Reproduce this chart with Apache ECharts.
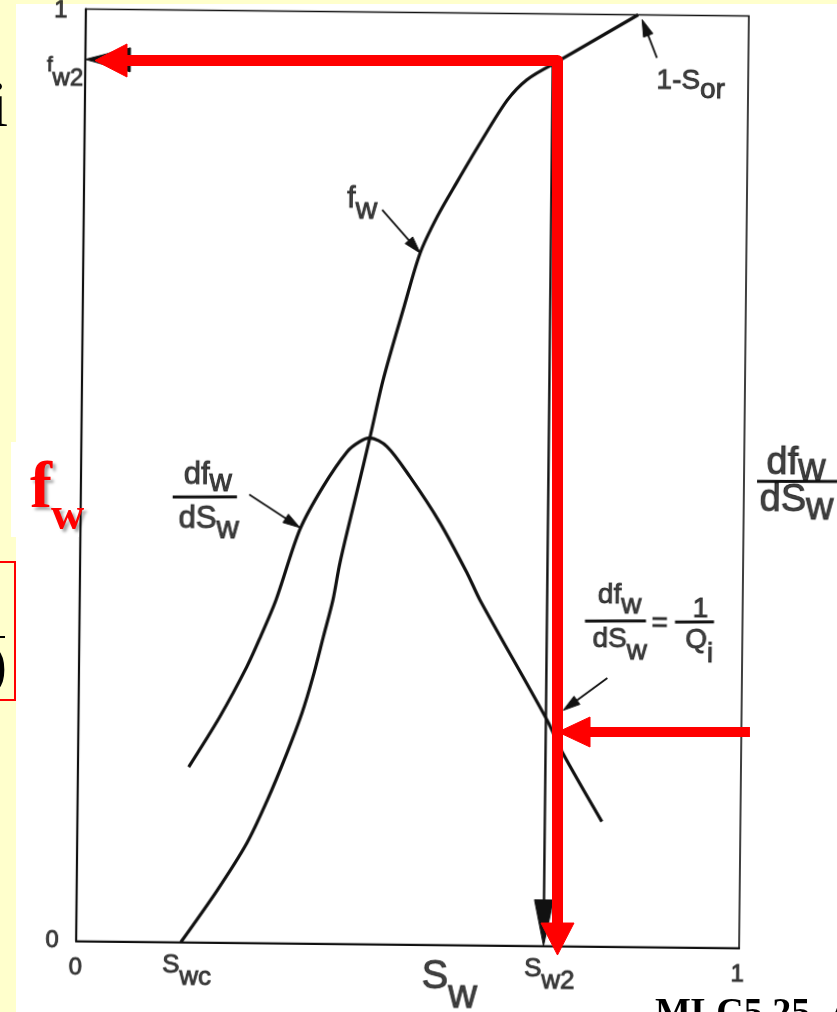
<!DOCTYPE html>
<html>
<head>
<meta charset="utf-8">
<title>Fractional flow curve f_w and df_w/dS_w</title>
<script src="https://cdn.jsdelivr.net/npm/echarts@6.0.0/dist/echarts.min.js"></script>
<style>
  html, body { margin:0; padding:0; width:837px; height:1012px; overflow:hidden; background:#ffffcc; }
  #sheet { position:absolute; left:16px; top:4px; width:821px; height:1008px; background:#ffffff; }
  #plot, #marks { position:absolute; left:0; top:0; width:837px; height:1012px; }
  /* the printed figure sits slightly tilted on the page */
  #plot { transform-origin:412.5px 478.5px; transform:rotate(0.6deg); }
</style>
</head>
<body>
<div id="sheet"></div>
<div id="plot"></div>
<div id="marks"></div>
<script>
const SANS = "'Liberation Sans', Arial, Helvetica, sans-serif";
const SERIF = "'Liberation Serif', 'Times New Roman', serif";
const INK = '#111111';
const RED = '#ff0000';

// ---- saturation end points and outlet water cut ----
const swc = 0.158;          // S_wc
const sw2 = 0.705;          // S_w2
const fw2 = 0.946;          // f_w2
const oneMinusSor = 0.833;  // 1 - S_or

// ---- fractional flow curve f_w(S_w) ----
const fwSw     = [0.158, 0.212, 0.256, 0.286, 0.315, 0.337, 0.353, 0.368, 0.382, 0.392, 0.417,
                  0.435, 0.454, 0.4845, 0.508, 0.533, 0.562, 0.597, 0.637, 0.666, 0.705];
const fwValues = [0.000, 0.056, 0.107, 0.153, 0.204, 0.247, 0.286, 0.329, 0.369, 0.409, 0.487,
                  0.543, 0.605, 0.684, 0.742, 0.781, 0.818, 0.861, 0.907, 0.929, 0.946];
// straight end piece of f_w from S_w2 to 1 - S_or
const fwTailSw     = [sw2, oneMinusSor];
const fwTailValues = [fw2, 1.0];

// ---- derivative df_w/dS_w (relative scale) ----
const dfSw     = [0.167, 0.213, 0.253, 0.273, 0.296, 0.331, 0.365, 0.401, 0.420, 0.435,
                  0.461, 0.496, 0.542, 0.584, 0.604, 0.707, 0.731, 0.791];
const dfValues = [0.188, 0.242, 0.296, 0.328, 0.368, 0.444, 0.490, 0.528, 0.539, 0.543,
                  0.534, 0.502, 0.453, 0.399, 0.370, 0.242, 0.207, 0.134];

// ---- axis tick labels ----
const axisTicks   = [0, 1];
const xMarkSw     = [swc, sw2];
const xMarkMain   = ['S', 'S'];
const xMarkSub    = ['wc', 'w2'];
const yMarkFw     = [fw2];
const yMarkMain   = ['f'];
const yMarkSub    = ['w2'];

// ---- annotation texts (anchor = top of text line) ----
const noteAt = [
  [0.398, 0.8145],  // f_w
  [0.192, 0.5167],  // df_w   (left)
  [0.194, 0.4699],  // dS_w   (left)
  [1.0345, 0.540],  // df_w   (right)
  [1.0245, 0.5002], // dS_w   (right)
  [0.815, 0.3908],  // df_w   (= 1/Q_i)
  [0.816, 0.3441],  // dS_w
  [0.876, 0.3617],  // =
  [0.937, 0.3772],  // 1
  [0.936, 0.3439],  // Q_i
  [0.8625, 0.944],  // 1-S_or
  [0.5222, -0.014]  // S_w axis name
];
const noteMain = ['f', 'df', 'dS', 'df', 'dS', 'df', 'dS', '=', '1', 'Q', '1-S', 'S'];
const noteSub  = ['w', 'w',  'w',  'w',  'w',  'w',  'w',  '',  '',  'i', 'or',  'w'];

// ---- fraction bars ----
const barFrom = [[0.1386, 0.4775], [1.0197, 0.5007], [0.7624, 0.3490], [0.8982, 0.3490]];
const barTo   = [[0.2356, 0.4782], [1.1524, 0.5017], [0.8544, 0.3497], [0.9570, 0.3494]];

// ---- black pointer arrows (tail -> tip) ----
const pointerFrom = [[0.862, 0.954], [0.450, 0.788], [0.254, 0.481], [0.797, 0.288]];
const pointerTo   = [[0.839, 0.995], [0.508, 0.742], [0.331, 0.446], [0.731, 0.253]];

// ---- black guide arrows from (S_w2, f_w2) to the axes ----
const guideFrom = [[sw2, fw2], [sw2, fw2]];
const guideTo   = [[sw2, 0],   [0, fw2]];

// ---- red highlight arrows ----
const redElbow = [[0.0211, 0.9485], [0.7187, 0.9485], [0.7187, -0.0113]]; // tip, corner, tip
const redRight = [[1.009, 0.228], [0.7195, 0.228]];                      // tail, tip

const GRID = { left: 81, right: 93, top: 12.5, bottom: 67.5 };

// per-note text styles
const noteStyle = [
  { size: 30, drop: 10.5, align: 'left' },
  { size: 31, drop: 7,    align: 'center' },
  { size: 31, drop: 9.5,  align: 'center' },
  { size: 38, drop: 6,    align: 'left' },
  { size: 38, drop: 8,    align: 'left' },
  { size: 28, drop: 10,   align: 'center' },
  { size: 28, drop: 12,   align: 'center' },
  { size: 28, drop: 0,    align: 'center' },
  { size: 28, drop: 0,    align: 'center' },
  { size: 28, drop: 13.5, align: 'center' },
  { size: 28, drop: 8.7,  align: 'left' },
  { size: 40, drop: 19,   align: 'left' }
];

function richText(main, sub, st) {
  const subSize = st.subSize || st.size;
  const ink = { color: INK, textBorderColor: INK, textBorderWidth: 0.9, fontFamily: SANS, verticalAlign: 'top' };
  return {
    show: true, position: [0, 0], distance: 0,
    align: st.align, verticalAlign: 'top',
    offset: st.offset || [0, 0],
    formatter: sub ? '{m|' + main + '}{s|' + sub + '}' : '{m|' + main + '}',
    rich: {
      m: Object.assign({ fontSize: st.size, lineHeight: st.size }, ink),
      s: Object.assign({ fontSize: subSize, lineHeight: subSize, padding: [st.drop, 0, 0, 0] }, ink)
    }
  };
}

function towards(p, q, d) {
  const dx = q[0] - p[0], dy = q[1] - p[1];
  const l = Math.hypot(dx, dy) || 1;
  return [p[0] + dx / l * d, p[1] + dy / l * d];
}

function headPolygon(tip, base, halfW, color) {
  const dx = tip[0] - base[0], dy = tip[1] - base[1];
  const l = Math.hypot(dx, dy) || 1;
  const nx = -dy / l, ny = dx / l;
  return {
    type: 'polygon',
    shape: { points: [tip, [base[0] + nx * halfW, base[1] + ny * halfW], [base[0] - nx * halfW, base[1] - ny * halfW]] },
    style: { fill: color, stroke: color, lineWidth: 1 }
  };
}

function arrowShape(p1, p2, head, headW, width, color) {
  const base = towards(p2, p1, head);
  const shaftEnd = towards(p2, p1, head - 2);
  return [
    { type: 'line', shape: { x1: p1[0], y1: p1[1], x2: shaftEnd[0], y2: shaftEnd[1] },
      style: { stroke: color, lineWidth: width, fill: 'none' } },
    headPolygon(p2, base, headW / 2, color)
  ];
}

function arrowSeries(name, from, to, head, headW, width, color) {
  return {
    type: 'custom', name: name, coordinateSystem: 'cartesian2d', clip: false, silent: true, z: 4,
    encode: { x: [0, 2], y: [1, 3] },
    data: from.map((p, i) => [p[0], p[1], to[i][0], to[i][1]]),
    renderItem: (params, api) => {
      const i = params.dataIndex;
      const h = Array.isArray(head) ? head[i] : head;
      const hw = Array.isArray(headW) ? headW[i] : headW;
      return {
        type: 'group',
        children: arrowShape(api.coord([api.value(0), api.value(1)]), api.coord([api.value(2), api.value(3)]), h, hw, width, color)
      };
    }
  };
}

// tick labels 0 and 1 on both axes, plus the named saturations and f_w2
const tickItems = []
  .concat(axisTicks.map(v => ({
    value: [v, 0],
    label: richText(String(v), '', { size: 24, drop: 0, align: 'center', offset: [v ? -1 : 0, 15] })
  })))
  .concat(axisTicks.map(v => ({
    value: [0, v],
    label: richText(String(v), '', { size: 24, drop: 0, align: 'right', offset: [v ? -18 : -17, v ? -10 : -12] })
  })))
  .concat(xMarkSw.map((s, i) => ({
    value: [s, 0],
    label: richText(xMarkMain[i], xMarkSub[i], { size: 26, drop: 11.5, align: 'center', offset: [6.5, 11] })
  })))
  .concat(yMarkFw.map((f, i) => ({
    value: [0, f],
    label: richText(yMarkMain[i], yMarkSub[i], { size: 20, subSize: 24, drop: 11, align: 'right', offset: [-1.5, -3] })
  })));

// ================= printed figure =================
const plot = echarts.init(document.getElementById('plot'));
plot.setOption({
  animation: false,
  backgroundColor: 'transparent',
  grid: Object.assign({ show: true, borderColor: INK, borderWidth: 1.6, backgroundColor: 'transparent' }, GRID),
  xAxis: {
    type: 'value', min: axisTicks[0], max: axisTicks[1], interval: 1,
    axisLine: { show: true, onZero: false, lineStyle: { color: INK, width: 2.2 } },
    axisTick: { show: false }, splitLine: { show: false }, axisLabel: { show: false }
  },
  yAxis: {
    type: 'value', min: axisTicks[0], max: axisTicks[1], interval: 1,
    axisLine: { show: true, onZero: false, lineStyle: { color: INK, width: 2.2 } },
    axisTick: { show: false }, splitLine: { show: false }, axisLabel: { show: false }
  },
  series: [
    {
      type: 'line', name: 'f_w', smooth: 0.3, symbol: 'none', silent: true, z: 3,
      lineStyle: { color: INK, width: 3.2 },
      data: fwSw.map((s, i) => [s, fwValues[i]])
    },
    {
      type: 'line', name: 'f_w end', symbol: 'none', silent: true, z: 3,
      lineStyle: { color: INK, width: 3.2 },
      data: fwTailSw.map((s, i) => [s, fwTailValues[i]])
    },
    {
      type: 'line', name: 'df_w/dS_w', smooth: 0.3, symbol: 'none', silent: true, z: 3,
      lineStyle: { color: INK, width: 3.2 },
      data: dfSw.map((s, i) => [s, dfValues[i]])
    },
    arrowSeries('guides', guideFrom, guideTo, [46, 45], [19, 24], 2.4, INK),
    arrowSeries('pointers', pointerFrom, pointerTo, 17, 10, 1.8, INK),
    {
      type: 'custom', name: 'fraction bars', coordinateSystem: 'cartesian2d', clip: false, silent: true, z: 4,
      encode: { x: [0, 2], y: [1, 3] },
      data: barFrom.map((p, i) => [p[0], p[1], barTo[i][0], barTo[i][1]]),
      renderItem: (params, api) => {
        const a = api.coord([api.value(0), api.value(1)]);
        const b = api.coord([api.value(2), api.value(3)]);
        return { type: 'line', shape: { x1: a[0], y1: a[1], x2: b[0], y2: b[1] },
                 style: { stroke: INK, lineWidth: 3, fill: 'none' } };
      }
    },
    {
      type: 'scatter', name: 'notes', symbol: 'circle', symbolSize: 1, clip: false, silent: true, z: 5,
      itemStyle: { color: 'transparent' },
      data: noteAt.map((p, i) => ({ value: p, label: richText(noteMain[i], noteSub[i], noteStyle[i]) }))
    },
    {
      type: 'scatter', name: 'tick labels', symbol: 'circle', symbolSize: 1, clip: false, silent: true, z: 5,
      itemStyle: { color: 'transparent' },
      data: tickItems
    }
  ]
});

// ================= red highlight layer =================
const marks = echarts.init(document.getElementById('marks'));
marks.setOption({
  animation: false,
  backgroundColor: 'transparent',
  grid: GRID,
  xAxis: { type: 'value', min: 0, max: 1, show: false },
  yAxis: { type: 'value', min: 0, max: 1, show: false },
  graphic: [
    // big f_w label
    { type: 'rect', shape: { x: 11, y: 442, width: 68, height: 95 }, style: { fill: '#ffffff' }, z: 1 },
    { type: 'text', x: 30, y: 490, z: 2,
      style: { text: 'f', font: 'bold 66px ' + SERIF, fill: RED, textAlign: 'left', textVerticalAlign: 'middle',
               textShadowColor: 'rgba(0,0,0,0.35)', textShadowBlur: 3, textShadowOffsetX: 3, textShadowOffsetY: 3,
               shadowColor: 'rgba(0,0,0,0.35)', shadowBlur: 3, shadowOffsetX: 3, shadowOffsetY: 3 } },
    { type: 'text', x: 51, y: 517, z: 2,
      style: { text: 'w', font: 'bold 46px ' + SERIF, fill: RED, textAlign: 'left', textVerticalAlign: 'middle',
               textShadowColor: 'rgba(0,0,0,0.35)', textShadowBlur: 3, textShadowOffsetX: 3, textShadowOffsetY: 3,
               shadowColor: 'rgba(0,0,0,0.35)', shadowBlur: 3, shadowOffsetX: 3, shadowOffsetY: 3 } },
    // slide margin pieces on the left
    { type: 'text', x: 8, y: 142, z: 2,
      style: { text: 'i', font: '66px ' + SERIF, fill: '#000', textAlign: 'right', textVerticalAlign: 'bottom' } },
    { type: 'rect', shape: { x: -4, y: 562, width: 19, height: 138 }, z: 2,
      style: { fill: 'none', stroke: RED, lineWidth: 2 } },
    { type: 'line', shape: { x1: 0, y1: 637, x2: 5, y2: 637 }, z: 2, style: { stroke: '#000', lineWidth: 2 } },
    { type: 'text', x: 7, y: 668, z: 2,
      style: { text: ')', font: '60px ' + SERIF, fill: '#000', textAlign: 'right', textVerticalAlign: 'middle' } },
    // slide reference
    { type: 'text', x: 655, y: 995, z: 2,
      style: { text: 'MLC5.25, A', font: 'bold 38px ' + SERIF, fill: '#000', textAlign: 'left', textVerticalAlign: 'top' } }
  ],
  series: [
    {
      type: 'custom', name: 'red elbow arrow', coordinateSystem: 'cartesian2d', clip: false, silent: true, z: 6,
      encode: { x: [0, 2, 4], y: [1, 3, 5] },
      data: [[redElbow[0][0], redElbow[0][1], redElbow[1][0], redElbow[1][1], redElbow[2][0], redElbow[2][1]]],
      renderItem: (params, api) => {
        const a = api.coord([api.value(0), api.value(1)]);
        const c = api.coord([api.value(2), api.value(3)]);
        const b = api.coord([api.value(4), api.value(5)]);
        const head = 32, halfW = 16.5;
        return {
          type: 'group',
          children: [
            { type: 'polyline',
              shape: { points: [towards(a, c, head - 2), c, towards(b, c, head - 2)] },
              style: { stroke: RED, lineWidth: 11, fill: 'none', lineJoin: 'round', lineCap: 'butt' } },
            headPolygon(a, towards(a, c, head), halfW, RED),
            headPolygon(b, towards(b, c, head), halfW, RED)
          ]
        };
      }
    },
    arrowSeries('red side arrow', [redRight[0]], [redRight[1]], 32, 30, 10, RED)
  ]
});
</script>
</body>
</html>
